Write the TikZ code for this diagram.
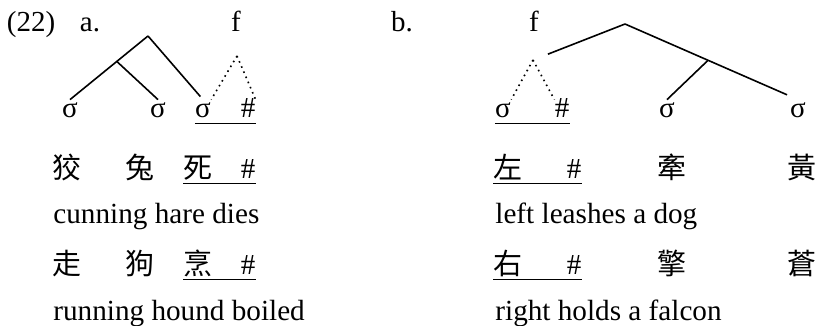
\documentclass[tikz,border=0pt]{standalone}
\usepackage{fontspec}
\setmainfont{Liberation Serif}
\newfontfamily\cjk{Noto Sans CJK TC}
\usetikzlibrary{calc}
\tikzset{
  word/.style   = {inner sep=0pt, text height=9pt, text depth=2.5pt, anchor=base,
                   font=\fontsize{14.5}{16}\selectfont},
  hanzi/.style  = {word, font=\cjk\fontsize{14.5}{16}\selectfont},
  gloss/.style  = {inner sep=0pt, anchor=base west, font=\fontsize{14.6}{16}\selectfont},
  branch/.style = {line width=0.8pt},
  foot/.style   = {line width=0.8pt, dotted},
  uline/.style  = {line width=0.7pt},
}

\begin{document}
\begin{tikzpicture}[x=0.5pt,y=-0.5pt]
 \useasboundingbox (0,0) rectangle (818,326);
 \node[word] (num) at (31,32) {(22)};
 % a: tree
 \node[word] (la) at (90,32) {a.};
 \node[word] (fa) at (236,32) {f};
 \node[word] (sa1) at (70,118) {σ};
 \node[word] (sa2) at (158,118) {σ};
 \node[word] (sa3) at (203,118) {σ};
 \node[word] (ha) at (248,118) {\#};
 \coordinate (aTop) at (148,36);
 \coordinate (aMid) at ($(aTop)!0.4!(sa1.north)$);
 \coordinate (faTop) at (237,56);
 \draw[branch] (aTop) -- (sa1.north);
 \draw[branch] (aMid) -- (sa2.north);
 \draw[branch, shorten >=2pt] (aTop) -- (sa3.north);
 \draw[foot] (faTop) -- (sa3.north east);
 \draw[foot] (faTop) -- (ha.north east);
 \draw[uline] (sa3.south west) -- (ha.south east);
 % b: tree
 \node[word] (lb) at (402,32) {b.};
 \node[word] (fb) at (534,32) {f};
 \node[word] (sb1) at (503,118) {σ};
 \node[word] (hb) at (562,118) {\#};
 \node[word] (sb2) at (667,118) {σ};
 \node[word] (sb3) at (798,118) {σ};
 \coordinate (bTop) at (625,24);
 \coordinate (bMid) at ($(bTop)!0.48!(sb3.north)$);
 \coordinate (fbTop) at (533,60);
 \draw[branch, shorten >=8pt] (bTop) -- (fbTop);
 \draw[branch, shorten >=6pt] (bTop) -- (sb3.north);
 \draw[branch] (bMid) -- (sb2.north);
 \draw[foot] (fbTop) -- (sb1.north east);
 \draw[foot] (fbTop) -- (hb.north west);
 \draw[uline] (sb1.south west) -- (hb.south east);
 % a: examples
 \foreach \ch/\x/\n in {狡/67/1, 兔/140/2, 死/198/3}{
   \node[hanzi] (pa\n) at (\x,178) {\ch};}
 \node[word] (pa4) at (248,178) {\#};
 \draw[uline] (pa3.south west) -- (pa4.south east);
 \node[gloss] (ga1) at (53,223) {cunning hare dies};
 \foreach \ch/\x/\n in {走/67/1, 狗/140/2, 烹/198/3}{
   \node[hanzi] (qa\n) at (\x,274) {\ch};}
 \node[word] (qa4) at (248,274) {\#};
 \draw[uline] (qa3.south west) -- (qa4.south east);
 \node[gloss] (ga2) at (53,320) {running hound boiled};
 % b: examples
 \foreach \ch/\x/\n in {左/508/1, 牽/672/3, 黃/802/4}{
   \node[hanzi] (pb\n) at (\x,178) {\ch};}
 \node[word] (pb2) at (574,178) {\#};
 \draw[uline] (pb1.south west) -- (pb2.south east);
 \node[gloss] (gb1) at (495,223) {left leashes a dog};
 \foreach \ch/\x/\n in {右/508/1, 擎/672/3, 蒼/802/4}{
   \node[hanzi] (qb\n) at (\x,274) {\ch};}
 \node[word] (qb2) at (574,274) {\#};
 \draw[uline] (qb1.south west) -- (qb2.south east);
 \node[gloss] (gb2) at (495,320) {right holds a falcon};
\end{tikzpicture}
\end{document}
